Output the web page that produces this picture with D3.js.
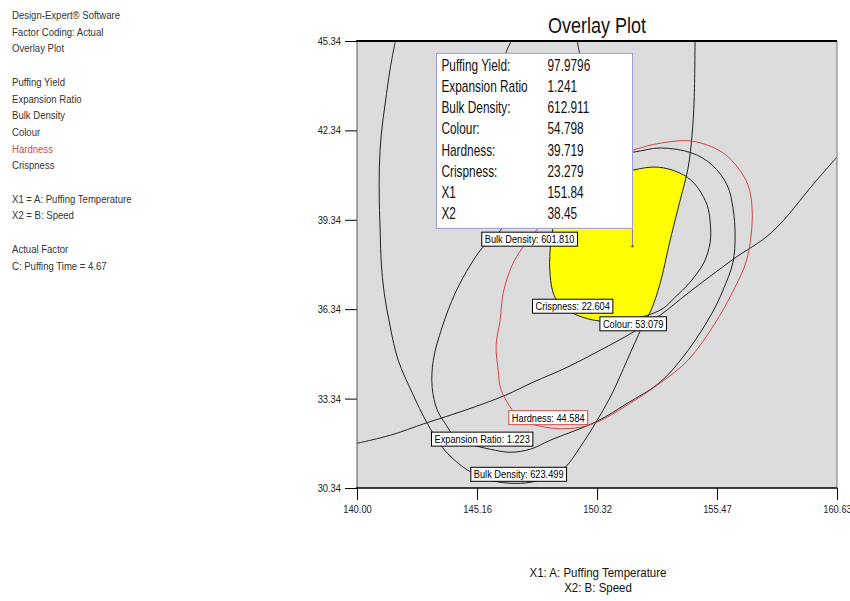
<!DOCTYPE html>
<html>
<head>
<meta charset="utf-8">
<script src="https://cdn.jsdelivr.net/npm/d3@7"></script>
<style>
body { margin: 0; background: #fff; }
text { font-family: "Liberation Sans", Arial, sans-serif; }
</style>
</head>
<body>
<svg id="chart" width="850" height="601"></svg>
<script>
// plot frame in pixels
var plot = {left: 357, right: 837, top: 41, bottom: 488};

var xDomain = [140.00, 160.63];
var yDomain = [30.34, 45.34];
var xTicks = [140.00, 145.16, 150.32, 155.47, 160.63];
var yTicks = [30.34, 33.34, 36.34, 39.34, 42.34, 45.34];

var notes = ["Design-Expert® Software", "Factor Coding: Actual", "Overlay Plot", "",
    "Puffing Yield", "Expansion Ratio", "Bulk Density", "Colour", "Hardness", "Crispness", "",
    "X1 = A: Puffing Temperature", "X2 = B: Speed", "",
    "Actual Factor", "C: Puffing Time = 4.67"];
var redNotes = ["Hardness"];

var boxRows = [
    ["Puffing Yield:", "97.9796"],
    ["Expansion Ratio", "1.241"],
    ["Bulk Density:", "612.911"],
    ["Colour:", "54.798"],
    ["Hardness:", "39.719"],
    ["Crispness:", "23.279"],
    ["X1", "151.84"],
    ["X2", "38.45"]
];
var flagPoint = [151.84, 38.45];

// contour lines, [X1, X2]
var bulkDensityOuter = [[141.65,45.34],[141.43,44.43],[141.22,43.29],[141.04,42.18],[140.96,41.08],
    [140.96,39.93],[141.00,38.83],[141.04,37.92],[141.17,36.88],[141.43,35.74],[141.77,34.63],
    [142.38,33.52],[143.02,32.51],[143.66,31.71],[144.35,31.17],[145.00,30.83],[145.73,30.60],
    [146.58,30.50],[147.44,30.53],[148.22,30.70],[148.95,31.04],[149.59,31.71],[150.32,32.61],
    [150.97,33.52],[151.61,34.63],[152.25,35.74],[152.64,36.31],[153.03,37.21],[153.46,38.66],
    [153.89,40.00],[154.23,41.08],[154.40,42.18],[154.49,43.36],[154.53,45.34]];

var bulkDensityInner = [[146.63,45.34],[146.37,44.87],[146.15,43.69],[146.29,42.02],[147.01,40.50],
    [148.22,40.07],[149.38,40.67],[149.81,42.69],[149.68,44.37],[149.46,45.34]];

var expansionRatio = [[151.87,41.61],[153.03,41.75],[154.40,41.58],[155.26,41.18],[155.91,40.50],
    [156.16,39.73],[156.25,38.83],[156.16,37.92],[155.73,36.98],[155.26,36.21],[154.23,34.96],
    [153.03,33.89],[151.61,33.18],[150.32,32.58],[148.30,31.94],[147.44,31.64],[146.58,31.54],
    [145.73,31.64],[144.87,31.81],[144.22,32.04],[143.79,32.51],[143.45,32.95],[143.23,33.72],
    [143.28,34.63],[143.66,35.74],[144.22,36.88],[144.87,37.82],[145.38,38.39],[146.11,38.93],
    [147.01,40.00],[148.30,40.94],[150.02,41.48]];

var hardness = [[151.87,41.68],[153.03,41.91],[154.40,41.98],[155.69,41.61],[156.38,41.08],
    [156.81,40.50],[156.98,39.73],[156.94,38.83],[156.72,37.92],[156.25,37.08],[155.39,35.87],
    [154.23,34.63],[153.03,33.86],[151.61,33.12],[150.32,32.55],[149.38,32.35],[148.09,32.38],
    [147.01,32.68],[146.20,33.62],[146.07,34.29],[145.98,35.13],[146.15,35.97],[146.29,36.91],
    [146.67,37.82],[147.10,38.39],[148.09,39.33],[149.16,40.34],[150.45,41.28]];

var crispness = [[151.87,41.01],[152.81,41.11],[153.54,41.01],[154.19,40.77],[154.66,40.40],
    [155.05,39.83],[155.18,39.26],[155.18,38.59],[154.92,37.92],[154.32,37.25],[153.67,36.74],
    [153.16,36.37],[152.38,36.11],[151.40,35.97],[150.45,35.94],[149.46,36.14],[148.82,36.44],
    [148.47,36.81],[148.30,37.48],[148.30,38.32],[148.43,39.06],[148.95,40.00],[150.02,40.61]];

var colour = [[140.00,31.84],[141.43,32.11],[142.93,32.51],[144.65,32.95],[146.37,33.45],
    [147.57,33.89],[149.03,34.39],[150.45,34.96],[151.87,35.57],[153.03,36.14],[154.23,36.88],
    [156.12,37.99],[157.84,38.93],[159.69,40.61],[160.63,41.45]];

var contourLabels = [
    {text: "Bulk Density: 601.810", at: [147.42, 38.69], stroke: "#000"},
    {text: "Crispness: 22.604", at: [149.27, 36.44], stroke: "#000"},
    {text: "Colour: 53.079", at: [151.87, 35.85], stroke: "#000"},
    {text: "Hardness: 44.584", at: [148.22, 32.70], stroke: "#d04848"},
    {text: "Expansion Ratio: 1.223", at: [145.38, 31.98], stroke: "#000"},
    {text: "Bulk Density: 623.499", at: [146.95, 30.80], stroke: "#000"}
];

var svg = d3.select("#chart");

var x = d3.scaleLinear().domain(xDomain).range([plot.left, plot.right]);
var y = d3.scaleLinear().domain(yDomain).range([plot.bottom, plot.top]);

// narrow text, like the source's condensed font
function squeezed(parent, px, py, str, size, sx, anchor, color) {
    var g = parent.append("g")
        .attr("transform", "translate(" + px + "," + py + ") scale(" + sx + ",1)");
    return g.append("text")
        .attr("font-size", size)
        .attr("text-anchor", anchor || "start")
        .attr("fill", color || "#000")
        .text(str);
}

// notes on the left
notes.forEach(function(s, i) {
    if (!s) return;
    var c = redNotes.indexOf(s) >= 0 ? "#d04848" : "#333";
    squeezed(svg, 12, 19 + i * 16.7, s, 11, 0.87, "start", c);
});

// title
squeezed(svg, (plot.left + plot.right) / 2, 33, "Overlay Plot", 22, 0.82, "middle", "#111");

var defs = svg.append("defs");
defs.append("clipPath").attr("id", "plotClip")
    .append("rect")
    .attr("x", plot.left).attr("y", plot.top)
    .attr("width", plot.right - plot.left).attr("height", plot.bottom - plot.top);

var line = d3.line()
    .x(d => x(d[0])).y(d => y(d[1]))
    .curve(d3.curveCatmullRom.alpha(0.5));
var loop = d3.line()
    .x(d => x(d[0])).y(d => y(d[1]))
    .curve(d3.curveCatmullRomClosed.alpha(0.5));

// region inside the outer bulk density contour
defs.append("clipPath").attr("id", "outerClip")
    .append("path").attr("d", line(bulkDensityOuter) + "Z");

svg.append("rect")
    .attr("x", plot.left).attr("y", plot.top)
    .attr("width", plot.right - plot.left).attr("height", plot.bottom - plot.top)
    .attr("fill", "#dcdcdc");

var area = svg.append("g").attr("clip-path", "url(#plotClip)");

// feasible (yellow) region
area.append("g").attr("clip-path", "url(#outerClip)")
    .append("path")
    .attr("d", loop(crispness))
    .attr("fill", "#ffff00");

var openLines = [bulkDensityOuter, bulkDensityInner, colour];
var closedLines = [
    {pts: expansionRatio, color: "#222"},
    {pts: crispness, color: "#222"},
    {pts: hardness, color: "#d04848"}
];

area.selectAll(".open").data(openLines).enter()
    .append("path").attr("class", "open")
    .attr("d", d => line(d))
    .attr("fill", "none").attr("stroke", "#222").attr("stroke-width", 1);

area.selectAll(".closed").data(closedLines).enter()
    .append("path").attr("class", "closed")
    .attr("d", d => loop(d.pts))
    .attr("fill", "none").attr("stroke", d => d.color).attr("stroke-width", 1);

// contour labels
contourLabels.forEach(function(l) {
    var g = svg.append("g")
        .attr("transform", "translate(" + x(l.at[0]) + "," + y(l.at[1]) + ")");
    var r = g.append("rect");
    var t = squeezed(g, 0, 4, l.text, 11, 0.84, "middle", "#000");
    var w = t.node().getComputedTextLength() * 0.84;
    r.attr("x", -w / 2 - 3).attr("y", -7)
        .attr("width", w + 6).attr("height", 14)
        .attr("fill", "#fff").attr("stroke", l.stroke).attr("stroke-width", 1);
});

// flag box
var fx = x(flagPoint[0]), fy = y(flagPoint[1]);
var boxW = 196, boxH = 175;
var boxRight = fx, boxBottom = fy - 18;
var boxLeft = boxRight - boxW, boxTop = boxBottom - boxH;

svg.append("line")
    .attr("x1", fx).attr("x2", fx).attr("y1", boxBottom).attr("y2", fy)
    .attr("stroke", "#888").attr("stroke-width", 1);
svg.append("circle").attr("cx", fx).attr("cy", fy).attr("r", 1.3).attr("fill", "#666");

svg.append("rect")
    .attr("x", boxLeft).attr("y", boxTop)
    .attr("width", boxW).attr("height", boxH)
    .attr("fill", "#fff").attr("stroke", "#9c9cd6").attr("stroke-width", 1);

boxRows.forEach(function(r, i) {
    var by = boxTop + 17.5 + i * 21.2;
    squeezed(svg, boxLeft + 5, by, r[0], 16, 0.74, "start", "#111");
    squeezed(svg, boxLeft + 111, by, r[1], 16, 0.74, "start", "#111");
});

// axes
var yAxis = svg.append("g")
    .attr("transform", "translate(" + plot.left + ",0)")
    .call(d3.axisLeft(y).tickValues(yTicks).tickSize(12).tickPadding(4).tickFormat(d3.format(".2f")));
yAxis.select(".domain").remove();
yAxis.selectAll("text")
    .attr("font-size", 11).attr("fill", "#222")
    .attr("transform", function() { return "translate(" + d3.select(this).attr("x") + ",0) scale(0.85,1)"; })
    .attr("x", 0);

var xAxis = svg.append("g")
    .attr("transform", "translate(0," + plot.bottom + ")")
    .call(d3.axisBottom(x).tickValues(xTicks).tickSize(12).tickPadding(5).tickFormat(d3.format(".2f")));
xAxis.select(".domain").remove();
xAxis.selectAll("text")
    .attr("font-size", 11).attr("fill", "#222")
    .attr("transform", "scale(0.85,1)");
xAxis.selectAll("text").attr("x", function(d) { return 0; });

// frame
svg.append("line").attr("x1", plot.left).attr("x2", plot.left)
    .attr("y1", plot.top).attr("y2", plot.bottom).attr("stroke", "#555");
svg.append("line").attr("x1", plot.right).attr("x2", plot.right)
    .attr("y1", plot.top).attr("y2", plot.bottom).attr("stroke", "#777");
svg.append("line").attr("x1", plot.left - 1).attr("x2", plot.right)
    .attr("y1", plot.top).attr("y2", plot.top).attr("stroke", "#000").attr("stroke-width", 2);
svg.append("line").attr("x1", plot.left - 1).attr("x2", plot.right)
    .attr("y1", plot.bottom).attr("y2", plot.bottom).attr("stroke", "#000").attr("stroke-width", 1.5);

// axis titles
squeezed(svg, 598, 577, "X1: A: Puffing Temperature", 12.5, 0.92, "middle", "#111");
squeezed(svg, 598, 592, "X2: B: Speed", 12.5, 0.92, "middle", "#111");
</script>
</body>
</html>
